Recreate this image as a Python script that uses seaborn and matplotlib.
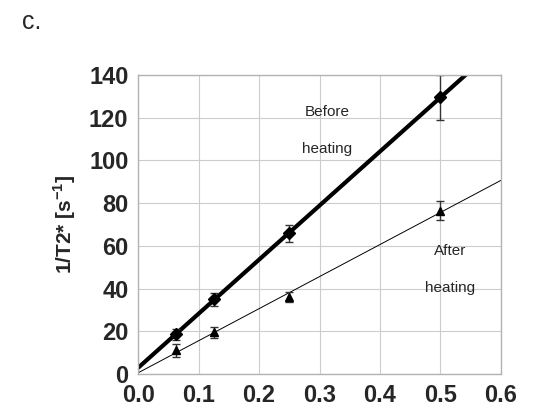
import numpy as np
import pandas as pd
import seaborn as sns
import matplotlib.pyplot as plt

# concentration values (x) and relaxation rates 1/T2* (y)
conc = [0.0625, 0.125, 0.25, 0.5]
before = [18.5, 35.0, 66.0, 129.5]
before_err = [2.5, 3.0, 4.0, 10.5]
after = [11.0, 19.5, 36.0, 76.5]
after_err = [3.0, 2.5, 2.5, 4.5]

x_ticks = [0.0, 0.1, 0.2, 0.3, 0.4, 0.5, 0.6]
y_ticks = [0, 20, 40, 60, 80, 100, 120, 140]

df = pd.DataFrame({'conc': conc, 'before': before, 'after': after})

sns.set_style('whitegrid', {'grid.color': '#cccccc', 'axes.edgecolor': '#b3b3b3'})
plt.rcParams['font.family'] = ['Liberation Sans', 'DejaVu Sans']
plt.rcParams['mathtext.fontset'] = 'custom'
plt.rcParams['mathtext.bf'] = 'Liberation Sans:bold'
plt.rcParams['mathtext.rm'] = 'Liberation Sans:bold'

fig = plt.figure(figsize=(5.42, 4.09), dpi=100)
ax = fig.add_axes([0.255, 0.0856, 0.669, 0.731])
ax.set_xlim(0, 0.6)
ax.set_ylim(0, 140)

# fitted lines, extended across the axis
sns.regplot(data=df, x='conc', y='before', ci=None, scatter=False, truncate=False,
            ax=ax, line_kws={'color': 'black', 'lw': 3.0})
sns.regplot(data=df, x='conc', y='after', ci=None, scatter=False, truncate=False,
            ax=ax, line_kws={'color': 'black', 'lw': 0.7})

# measured points with error bars
ax.errorbar(conc, before, yerr=before_err, fmt='D', ms=6.5, color='black',
            ecolor='#333333', elinewidth=1, capsize=3)
ax.errorbar(conc, after, yerr=after_err, fmt='^', ms=6, color='black',
            ecolor='#333333', elinewidth=1, capsize=3)

ax.set_xlim(0, 0.6)
ax.set_ylim(0, 140)
ax.set_xticks(x_ticks)
ax.set_yticks(y_ticks)
ax.set_xticklabels([f'{v:.1f}' for v in x_ticks], fontsize=17, fontweight='bold')
ax.set_yticklabels([str(v) for v in y_ticks], fontsize=17, fontweight='bold')
ax.tick_params(axis='both', length=5, color='#b3b3b3', pad=2)
ax.set_xlabel('')
ax.set_ylabel('1/T2* [s$^{\\mathbf{-1}}$]', fontsize=15, fontweight='bold', labelpad=8)
for s in ax.spines.values():
    s.set_linewidth(1)

ax.text(0.312, 114, 'Before\n\nheating', ha='center', va='center', fontsize=11,
        linespacing=1.4)
ax.text(0.516, 49, 'After\n\nheating', ha='center', va='center', fontsize=11,
        linespacing=1.4)

fig.text(0.04, 0.93, 'c.', fontsize=18)

fig.savefig('out.png', dpi=100)
